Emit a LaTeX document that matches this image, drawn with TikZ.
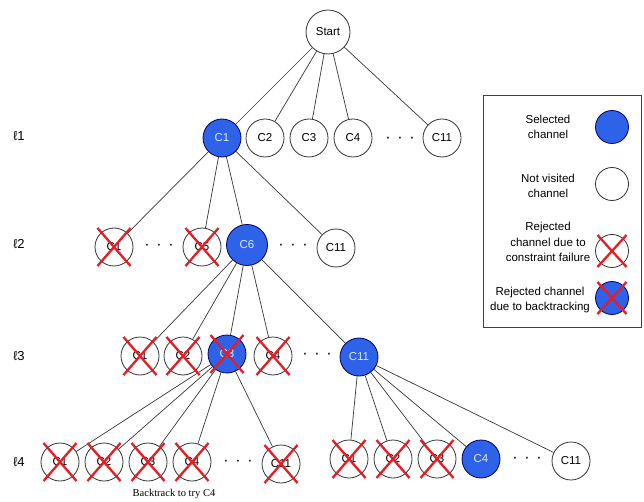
\documentclass[tikz,border=0pt]{standalone}
\usepackage{fontspec}
\setmainfont{Liberation Sans}
\newfontfamily\serifrm{Liberation Serif}
\definecolor{chblue}{RGB}{46,98,232}
\definecolor{chred}{RGB}{232,28,36}
\definecolor{edgegray}{RGB}{55,55,55}
\begin{document}
\begin{tikzpicture}[x=1pt,y=-1pt,
  ch/.style={circle, draw=black!80, line width=0.8pt, minimum size=38pt, inner sep=0pt,
             font=\fontsize{11.5}{13}\selectfont, fill=white},
  sel/.style={ch, fill=chblue, draw=black!60!blue, text=white!85!chblue},
  dotsnode/.style={inner sep=0pt, font=\fontsize{16}{16}\selectfont},
  edge/.style={draw=edgegray, line width=0.7pt},
  xmk/.style={draw=chred, line width=2.3pt},
  lvl/.style={font=\fontsize{13}{15}\selectfont, inner sep=0pt},
  legtext/.style={align=center, font=\fontsize{11.5}{15.5}\selectfont, inner sep=0pt}
]
\useasboundingbox (0,0) rectangle (644,502);

% level 0
\node[ch, minimum size=44pt] (s) at (328,32) {Start};
% level 1
\node[sel] (a1) at (222,138) {C1};
\node[ch] (a2) at (265,138) {C2};
\node[ch] (a3) at (309,138) {C3};
\node[ch] (a4) at (353,138) {C4};
\node[dotsnode] (ad) at (400,140) {·\hspace{6.6pt}·\hspace{6.6pt}·};
\node[ch] (a11) at (442,138) {C11};
% level 2
\node[ch] (b1) at (114,247) {C1};
\node[dotsnode] (bd1) at (159,247) {·\hspace{6.6pt}·\hspace{6.6pt}·};
\node[ch] (b5) at (202,247) {C5};
\node[sel, minimum size=41pt] (b6) at (247,245) {C6};
\node[dotsnode] (bd2) at (293,247) {·\hspace{6.6pt}·\hspace{6.6pt}·};
\node[ch] (b11) at (336,248) {C11};
% level 3
\node[ch] (c1) at (140,356) {C1};
\node[ch] (c2) at (183,356) {C2};
\node[sel] (c3) at (227,354) {C3};
\node[ch] (c4) at (273,356) {C4};
\node[dotsnode] (cd) at (317,356) {·\hspace{6.6pt}·\hspace{6.6pt}·};
\node[sel] (c11) at (359,357) {C11};
% level 4 left
\node[ch] (d1) at (60,462) {C1};
\node[ch] (d2) at (104,462) {C2};
\node[ch] (d3) at (148,462) {C3};
\node[ch] (d4) at (192,462) {C4};
\node[dotsnode] (dd) at (238,463) {·\hspace{6.6pt}·\hspace{6.6pt}·};
\node[ch] (d11) at (281,464) {C11};
% level 4 right
\node[ch] (e1) at (349,459) {C1};
\node[ch] (e2) at (393,459) {C2};
\node[ch] (e3) at (437,459) {C3};
\node[sel] (e4) at (481,459) {C4};
\node[dotsnode] (ed) at (527,460) {·\hspace{6.6pt}·\hspace{6.6pt}·};
\node[ch] (e11) at (571,461) {C11};

% edges
\foreach \t in {a1,a2,a3,a4,a11} \draw[edge] (s) -- (\t);
\foreach \t in {b1,b5,b6,b11} \draw[edge] (a1) -- (\t);
\foreach \t in {c1,c2,c3,c4,c11} \draw[edge] (b6) -- (\t);
\foreach \t in {d1,d2,d3,d4,d11} \draw[edge] (c3) -- (\t);
\foreach \t in {e1,e2,e3,e4,e11} \draw[edge] (c11) -- (\t);

% level labels
\node[lvl] (l1) at (19,136) {ℓ1};
\node[lvl] (l2) at (19,244) {ℓ2};
\node[lvl] (l3) at (19,356) {ℓ3};
\node[lvl] (l4) at (19,462) {ℓ4};

\node[inner sep=0pt, font=\serifrm\fontsize{10.5}{12}\selectfont] (bt) at (174,494) {Backtrack to try C4};

% legend
\node[draw=black!75, line width=0.8pt, minimum width=158pt, minimum height=232pt, inner sep=0pt] (leg) at (562,211) {};
\node[sel, minimum size=33pt] (L1) at (612,127) {};
\node[ch, minimum size=33pt] (L2) at (612,184) {};
\node[ch, minimum size=33pt] (L3) at (612,251) {};
\node[sel, minimum size=33pt] (L4) at (612,298) {};
\node[legtext] (t1) at (548,127) {Selected\\channel};
\node[legtext] (t2) at (548,186) {Not visited\\channel};
\node[legtext] (t3) at (548,242) {Rejected\\channel due to\\constraint failure};
\node[legtext] (t4) at (540,300) {Rejected channel\\due to backtracking};

% red crosses
\foreach \n in {b1,b5,c1,c2,c3,c4,d1,d2,d3,d4,d11,e1,e2,e3} {
  \draw[xmk] ([xshift=-16.5pt,yshift=-19pt]\n.center) -- ([xshift=16.5pt,yshift=19pt]\n.center);
  \draw[xmk] ([xshift=-16.5pt,yshift=19pt]\n.center) -- ([xshift=16.5pt,yshift=-19pt]\n.center);
}
\foreach \n in {L3,L4} {
  \draw[xmk] ([xshift=-14.5pt,yshift=-16pt]\n.center) -- ([xshift=14.5pt,yshift=16pt]\n.center);
  \draw[xmk] ([xshift=-14.5pt,yshift=16pt]\n.center) -- ([xshift=14.5pt,yshift=-16pt]\n.center);
}
\end{tikzpicture}
\end{document}
